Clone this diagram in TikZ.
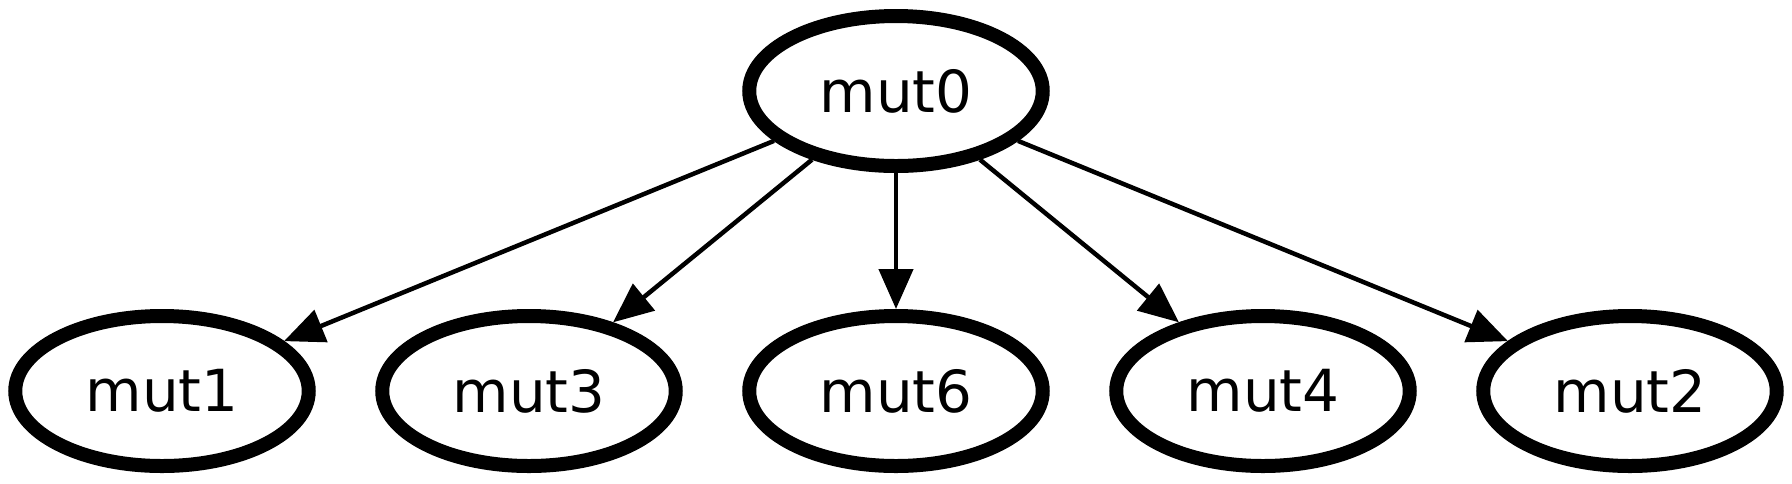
\documentclass[tikz,border=0pt]{standalone}
\usepackage{fontspec}
\setmainfont{DejaVu Sans}
\usetikzlibrary{shapes.geometric,arrows.meta}
\begin{document}
\begin{tikzpicture}[x=0.2pt,y=-0.2pt,
  mutnode/.style={ellipse,draw=black,line width=2.8pt,minimum width=58.7pt,minimum height=30pt,inner sep=0pt,font=\fontsize{11.6pt}{13pt}\selectfont},
  edge/.style={draw=black,line width=0.9pt,-{Triangle[length=8pt,width=6.8pt]}}]
\useasboundingbox (0,0) rectangle (1792,483);
\node[mutnode] (m0) at (896,91) {mut0};
\node[mutnode] (m1) at (162,391) {mut1};
\node[mutnode] (m3) at (529,391) {mut3};
\node[mutnode] (m6) at (896,391) {mut6};
\node[mutnode] (m4) at (1263,391) {mut4};
\node[mutnode] (m2) at (1630,391) {mut2};
\draw[edge] (m0) -- (m1);
\draw[edge] (m0) -- (m3);
\draw[edge] (m0) -- (m6);
\draw[edge] (m0) -- (m4);
\draw[edge] (m0) -- (m2);
\end{tikzpicture}
\end{document}
